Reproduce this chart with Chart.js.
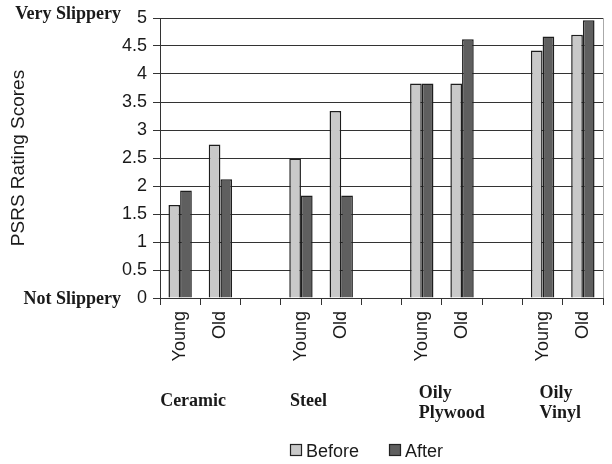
<!DOCTYPE html>
<html>
<head>
<meta charset="utf-8">
<script src="https://cdn.jsdelivr.net/npm/chart.js@4.4.1/dist/chart.umd.min.js"></script>
<style>
  html, body { margin: 0; padding: 0; background: #fff; }
  #wrap { width: 612px; height: 464px; position: relative; }
</style>
</head>
<body>
<div id="wrap"><canvas id="slipChart"></canvas></div>
<script>
const ageLabels = ['Young', 'Old', '', 'Young', 'Old', '', 'Young', 'Old', '', 'Young', 'Old']
const beforeScores = [1.66, 2.74, null, 2.49, 3.34, null, 3.83, 3.83, null, 4.42, 4.70]
const afterScores = [1.92, 2.12, null, 1.83, 1.83, null, 3.83, 4.62, null, 4.67, 4.96]
const surfaceNames = [['Ceramic'], ['Steel'], ['Oily', 'Plywood'], ['Oily', 'Vinyl']]
const surfaceIndex = [0, 3, 6, 9]
const surfaceShift = [-20, -11, -3, -3]

const sansFont = "'Liberation Sans', Arial, sans-serif"
const serifFont = "'Liberation Serif', 'Times New Roman', serif"

// extra texts: end labels, surface names, legend, right border
const extras = {
    id: 'extras',
    afterDraw(chart) {
        const ctx = chart.ctx
        const x = chart.scales.x
        const area = chart.chartArea
        ctx.save()

        ctx.strokeStyle = '#aaa'
        ctx.lineWidth = 1
        ctx.beginPath()
        ctx.moveTo(area.right + 0.5, area.top)
        ctx.lineTo(area.right + 0.5, area.bottom)
        ctx.stroke()

        ctx.fillStyle = '#1a1a1a'
        ctx.font = 'bold 18px ' + serifFont
        ctx.textAlign = 'right'
        ctx.textBaseline = 'alphabetic'
        ctx.fillText('Very Slippery', 121, 19)
        ctx.fillText('Not Slippery', 121, 304)

        ctx.textAlign = 'left'
        surfaceNames.forEach((lines, i) => {
            const left = x.getPixelForValue(surfaceIndex[i]) + surfaceShift[i]
            const base = lines.length > 1 ? 398 : 406
            lines.forEach((t, j) => ctx.fillText(t, left, base + j * 20))
        })

        // legend
        ctx.font = '18px ' + sansFont
        const items = [
            { text: 'Before', ds: chart.data.datasets[0], x: 290 },
            { text: 'After', ds: chart.data.datasets[1], x: 389 }
        ]
        items.forEach(it => {
            ctx.fillStyle = it.ds.backgroundColor
            ctx.fillRect(it.x, 444, 12, 12)
            ctx.strokeStyle = '#222'
            ctx.lineWidth = 1.2
            ctx.strokeRect(it.x + 0.5, 444.5, 11, 11)
            ctx.fillStyle = '#1a1a1a'
            ctx.fillText(it.text, it.x + 16, 457)
        })
        ctx.restore()
    }
}

const data = {
    labels: ageLabels,
    datasets: [{
        label: 'Before',
        data: beforeScores,
        backgroundColor: '#c9c9c9',
        borderColor: '#1e1e1e',
        borderWidth: 1.5
    }, {
        label: 'After',
        data: afterScores,
        backgroundColor: '#5f5f5f',
        borderColor: '#1e1e1e',
        borderWidth: 1.5
    }]
}

const options = {
    responsive: true,
    maintainAspectRatio: false,
    animation: false,
    layout: { padding: { top: 18, right: 9, left: 0, bottom: 0 } },
    datasets: { bar: { categoryPercentage: 0.58, barPercentage: 1 } },
    plugins: {
        legend: { display: false },
        tooltip: { enabled: false }
    },
    scales: {
        x: {
            afterFit: s => { s.height = 166 },
            grid: { drawOnChartArea: false, offset: true, tickLength: 7, color: '#333' },
            border: { color: '#333', width: 1 },
            ticks: {
                autoSkip: false, maxRotation: 90, minRotation: 90,
                padding: 6, color: '#1a1a1a',
                font: { family: sansFont, size: 18 }
            }
        },
        y: {
            min: 0, max: 5,
            afterFit: s => { s.width = 160 },
            grid: { color: '#333', tickLength: 7 },
            border: { color: '#333', width: 1 },
            ticks: {
                stepSize: 0.5, padding: 6, color: '#1a1a1a',
                font: { family: sansFont, size: 18 },
                callback: v => String(v)
            },
            title: {
                display: true, text: 'PSRS Rating Scores', color: '#1a1a1a',
                padding: { top: 7, bottom: 0 },
                font: { family: sansFont, size: 19 }
            }
        }
    }
}

new Chart('slipChart', { type: 'bar', data, options, plugins: [extras] })
</script>
</body>
</html>
